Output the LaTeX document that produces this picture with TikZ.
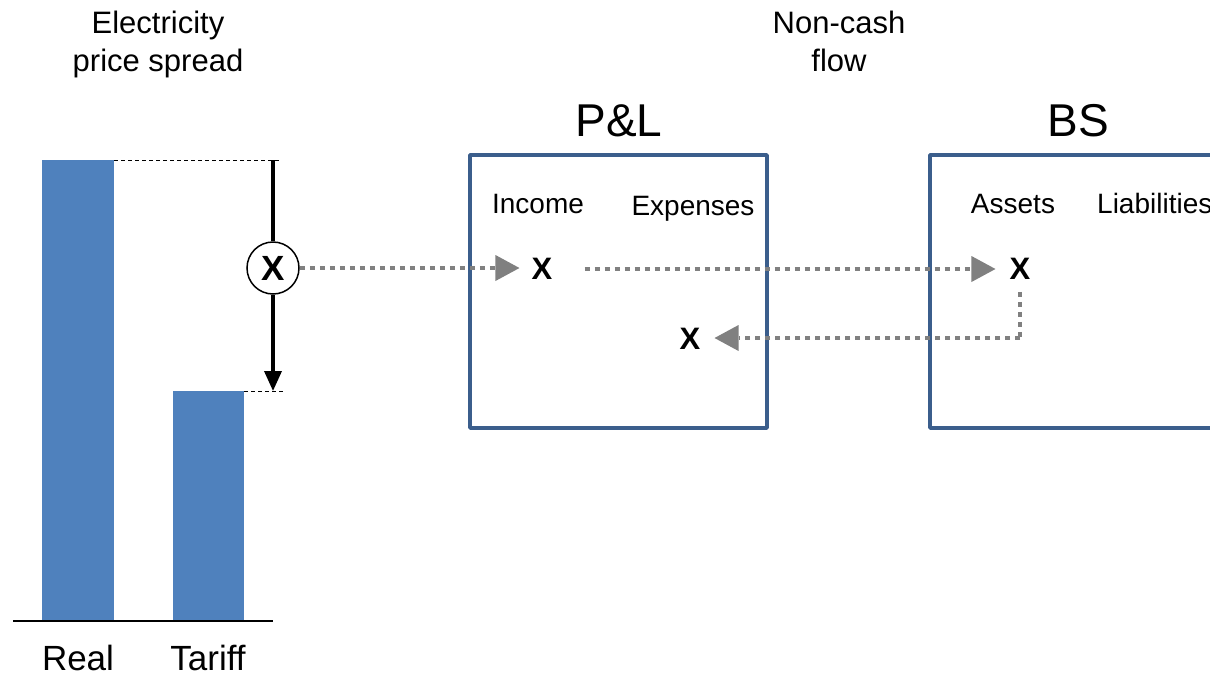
\documentclass[tikz,border=0pt]{standalone}
\usepackage{fontspec}
\setmainfont{Liberation Sans}
\usetikzlibrary{arrows.meta}
\definecolor{barblue}{HTML}{4F81BD}
\definecolor{boxblue}{HTML}{3B5E8C}
\definecolor{flowgray}{HTML}{808080}
\tikzset{
  bar/.style={fill=barblue, draw=none},
  stmt/.style={draw=boxblue, line width=3.5pt, line join=round},
  flow/.style={draw=flowgray, line width=4pt, dash pattern=on 5pt off 5pt, -{Triangle[length=24pt,width=26pt,fill=flowgray,line width=0pt]}},
  flownohead/.style={draw=flowgray, line width=4pt, dash pattern=on 5pt off 5pt},
  lbl/.style={font=\fontsize{31}{38}\selectfont, align=center, inner sep=0pt},
  axlbl/.style={font=\fontsize{35}{40}\selectfont, anchor=base, inner sep=0pt},
  head/.style={font=\fontsize{46}{50}\selectfont, inner sep=0pt},
  sub/.style={font=\fontsize{28}{32}\selectfont, inner sep=0pt, anchor=base},
  xmark/.style={font=\fontsize{31}{34}\selectfont\bfseries, inner sep=0pt},
  guide/.style={draw=black, line width=0.8pt, dash pattern=on 4pt off 3pt},
}
\begin{document}
\begin{tikzpicture}[x=1pt,y=-1pt]
\useasboundingbox (0,0) rectangle (1210,675);
\clip (0,0) rectangle (1210,675);
% bars
\fill[bar] (42,160) rectangle (114,621);
\fill[bar] (173,391) rectangle (244,621);
\draw[line width=2pt] (13,621) -- (273,621);
\node[axlbl] (real) at (78,670) {Real};
\node[axlbl] (tariff) at (208,670) {Tariff};
\node[lbl] (spread) at (158,44) {Electricity\\price spread};
% guides
\coordinate (top) at (273,160);
\coordinate (bot) at (273,391);
\draw[guide] (114,160) -- (280,160);
\draw[guide] (244,391) -- (283,391);
\node[draw, circle, line width=1.5pt, minimum size=52pt, inner sep=0pt, font=\fontsize{35}{36}\selectfont\bfseries, fill=white] (mult) at (273,268) {X};
\draw[line width=3.5pt] (top) -- (mult.north);
\draw[line width=3.5pt, -{Triangle[length=20pt,width=17pt]}] (mult.south) -- (bot);
% P&L
\draw[stmt] (470,155) rectangle (767,428);
\node[head] (pl) at (619,121) {P\&L};
\node[sub] (income) at (538,213) {Income};
\node[sub] (exp) at (693,215) {Expenses};
\node[xmark] (x1) at (542,269) {X};
\node[xmark] (x2) at (690,339) {X};
% BS
\draw[stmt] (930,155) rectangle (1230,428);
\node[head] (bs) at (1078,121) {BS};
\node[sub] (assets) at (1013,213) {Assets};
\node[sub, anchor=base west] (liab) at (1097,213) {Liabilities};
\node[xmark] (x3) at (1020,269) {X};
% flow
\node[lbl] (noncash) at (839,41) {Non-cash\\flow};
\coordinate (corner) at (1020,338);
\draw[flow] (mult.east) -- ([xshift=-12pt]x1.west |- mult.east);
\draw[flow] ([xshift=32pt]x1.east) -- ([xshift=-14pt]x3.west);
\draw[flownohead] ([yshift=-12pt]x3.south) -- (corner);
\draw[flow] (corner) -- ([xshift=14pt]x2.east |- corner);
\end{tikzpicture}
\end{document}
